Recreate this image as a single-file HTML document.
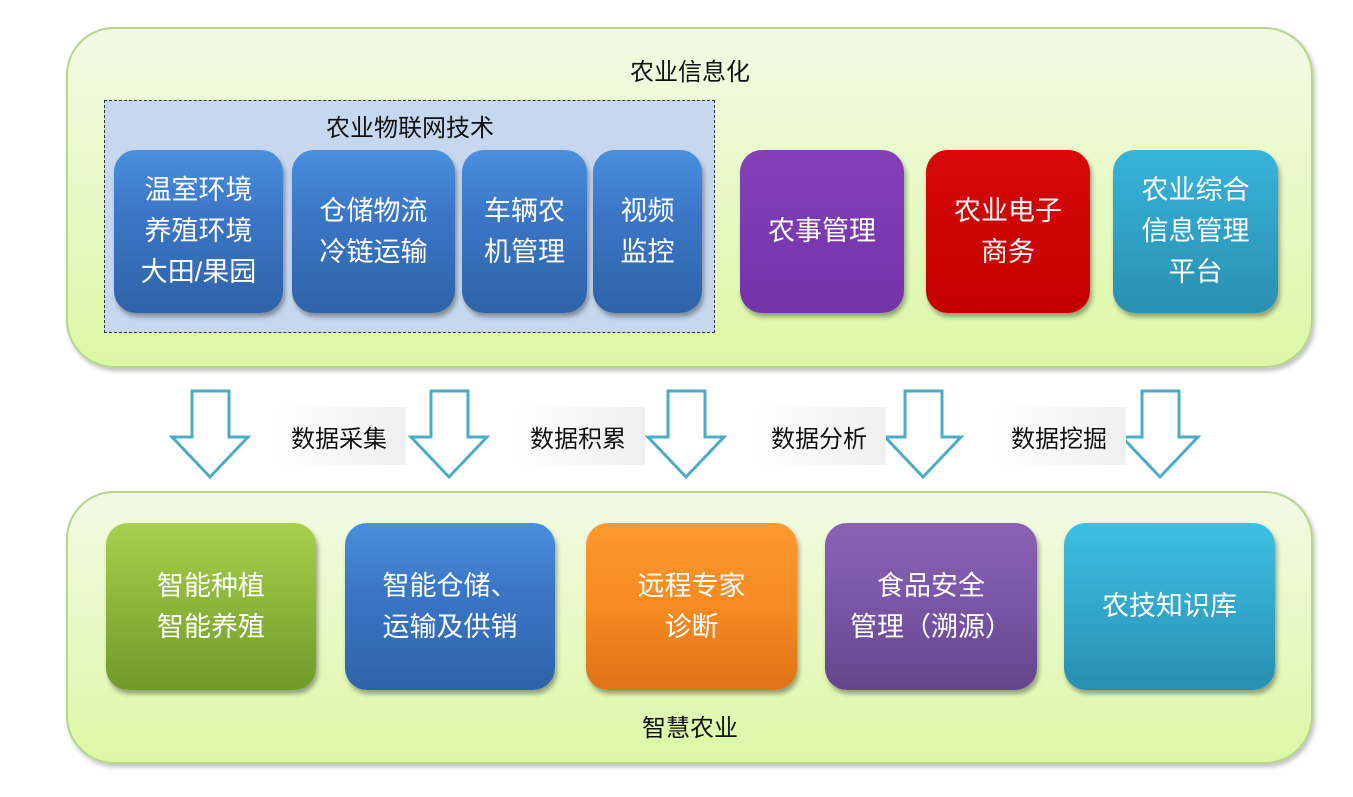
<!DOCTYPE html>
<html><head><meta charset="utf-8"><style>
body{margin:0;width:1353px;height:797px;background:#fff;position:relative;overflow:hidden;font-family:"Liberation Sans","Noto Sans CJK SC",sans-serif}
.c{position:absolute;border:2px solid #b5d68c;border-radius:48px;background:linear-gradient(#f3fae4,#dcf8a6);box-shadow:2px 3px 5px rgba(0,0,0,.25);box-sizing:border-box}
.t{position:absolute;font-size:24px;color:#111;text-align:center}
.b{position:absolute;border-radius:22px;color:#fff;font-size:27px;line-height:41px;display:flex;align-items:center;justify-content:center;text-align:center;box-shadow:2px 4px 5px rgba(0,0,0,.35);box-sizing:border-box;white-space:nowrap}
.blue{background:linear-gradient(#4a8fde,#3b76c6 40%,#2f63a8)}
.lbl{position:absolute;height:58px;width:134px;background:linear-gradient(90deg,#fff,#efefef);font-size:24px;display:flex;align-items:center;justify-content:center;color:#111}
</style></head><body>
<div class="c" style="left:66px;top:27px;width:1247px;height:341px"></div>
<div class="t" style="left:590px;top:52px;width:200px">农业信息化</div>
<div style="position:absolute;left:104px;top:100px;width:611px;height:233px;background:#c6d8ef;border:1.5px dashed #333;box-sizing:border-box"></div>
<div class="t" style="left:300px;top:108px;width:220px">农业物联网技术</div>
<div class="b blue" style="left:114px;top:150px;width:169px;height:163px">温室环境<br>养殖环境<br>大田/果园</div>
<div class="b blue" style="left:292px;top:150px;width:163px;height:163px">仓储物流<br>冷链运输</div>
<div class="b blue" style="left:462px;top:150px;width:125px;height:163px">车辆农<br>机管理</div>
<div class="b blue" style="left:593px;top:150px;width:109px;height:163px">视频<br>监控</div>
<div class="b" style="left:740px;top:150px;width:164px;height:163px;background:linear-gradient(#8440b8,#7334a8)">农事管理</div>
<div class="b" style="left:926px;top:150px;width:164px;height:163px;background:linear-gradient(#d80808,#c40000)">农业电子<br>商务</div>
<div class="b" style="left:1113px;top:150px;width:165px;height:163px;background:linear-gradient(#36b4da,#2a8fb0)">农业综合<br>信息管理<br>平台</div>

<svg style="position:absolute;left:0;top:0" width="1353" height="797">
<g fill="#fff" stroke="#4bacc6" stroke-width="3">
<path d="M192 391H229V437H248L210 477L172 437H192Z"/>
<path d="M431 391H468V437H487L449 477L411 437H431Z"/>
<path d="M668 391H705V437H724L686 477L648 437H668Z"/>
<path d="M905 391H942V437H961L923 477L885 437H905Z"/>
<path d="M1142 391H1179V437H1198L1160 477L1122 437H1142Z"/>
</g></svg>
<div class="lbl" style="left:272px;top:407px">数据采集</div>
<div class="lbl" style="left:511px;top:407px">数据积累</div>
<div class="lbl" style="left:752px;top:407px">数据分析</div>
<div class="lbl" style="left:992px;top:407px">数据挖掘</div>

<div class="c" style="left:66px;top:491px;width:1247px;height:273px"></div>
<div class="b" style="left:106px;top:523px;width:210px;height:167px;background:linear-gradient(#a8d04e,#8bb53a 50%,#6f9a2c)">智能种植<br>智能养殖</div>
<div class="b blue" style="left:345px;top:523px;width:210px;height:167px">智能仓储、<br>运输及供销</div>
<div class="b" style="left:586px;top:523px;width:211px;height:167px;background:linear-gradient(#fd9a2e,#f58b22 50%,#e07218)">远程专家<br>诊断</div>
<div class="b" style="left:825px;top:523px;width:212px;height:167px;background:linear-gradient(#8a62b4,#7a55a6 50%,#64448c)">食品安全<br>管理（溯源）</div>
<div class="b" style="left:1064px;top:523px;width:211px;height:167px;background:linear-gradient(#3ec0e2,#32a8cc 50%,#2a8eb0)">农技知识库</div>
<div class="t" style="left:590px;top:708px;width:200px">智慧农业</div>
</body></html>
